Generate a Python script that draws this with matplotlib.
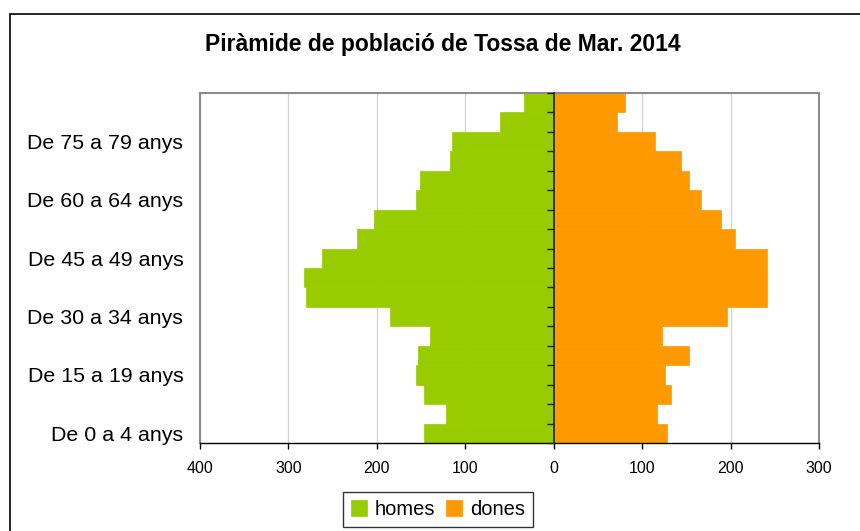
import matplotlib
matplotlib.use("Agg")
import matplotlib.pyplot as plt
from matplotlib.patches import Rectangle
from matplotlib.ticker import FuncFormatter
import numpy as np

plt.rcParams['font.family'] = ['Liberation Sans', 'DejaVu Sans']

categories = ["De 0 a 4 anys", "De 5 a 9 anys", "De 10 a 14 anys", "De 15 a 19 anys",
              "De 20 a 24 anys", "De 25 a 29 anys", "De 30 a 34 anys", "De 35 a 39 anys",
              "De 40 a 44 anys", "De 45 a 49 anys", "De 50 a 54 anys", "De 55 a 59 anys",
              "De 60 a 64 anys", "De 65 a 69 anys", "De 70 a 74 anys", "De 75 a 79 anys",
              "De 80 a 84 anys", "De 85 anys i més"]
homes = [147, 122, 147, 156, 153, 140, 185, 280, 282, 262, 223, 203, 156, 151, 117, 115, 61, 34]
dones = [128, 117, 133, 126, 153, 122, 196, 241, 241, 241, 205, 189, 167, 153, 144, 115, 72, 81]
xticks = [-400, -300, -200, -100, 0, 100, 200, 300]
title = "Piràmide de població de Tossa de Mar. 2014"

W, H = 860, 531
fig = plt.figure(figsize=(W / 100, H / 100), dpi=100)
fig.patch.set_facecolor('white')

# outer chart border (extends past right and bottom edges)
top_frac = 1 - 14 / H
fig.add_artist(Rectangle((10 / W, -0.2), 1.2, top_frac + 0.2, transform=fig.transFigure,
                         fill=False, edgecolor='black', linewidth=1.2))

ax = fig.add_axes([200 / W, (H - 443) / H, (819 - 200) / W, (443 - 93) / H])
y = np.arange(len(categories))
green = '#99CC00'
orange = '#FF9900'
ax.barh(y, [-v for v in homes], height=1.0, color=green, edgecolor=green, linewidth=0.5,
        label='homes', zorder=2)
ax.barh(y, dones, height=1.0, color=orange, edgecolor=orange, linewidth=0.5,
        label='dones', zorder=2)

ax.set_xlim(-400, 300)
ax.set_ylim(-0.5, len(categories) - 0.5)
ax.set_xticks(xticks)
ax.xaxis.set_major_formatter(FuncFormatter(lambda v, p: f"{abs(int(v))}"))
ax.tick_params(axis='x', direction='out', length=4, width=1, pad=9, labelsize=11.5, colors='black')
ax.grid(axis='x', color='#D6D6D6', linewidth=1, zorder=0)

ax.set_yticks(y[::3])
ax.set_yticklabels(categories[::3])
ax.tick_params(axis='y', length=0, pad=12, labelsize=15.4)

for s in ['left', 'top', 'right']:
    ax.spines[s].set_color('#8C8C8C')
    ax.spines[s].set_linewidth(1.5)
ax.spines['bottom'].set_color('black')
ax.spines['bottom'].set_linewidth(1)

# central axis at x = 0 with boundary ticks
ax2 = ax.twinx()
ax2.set_ylim(ax.get_ylim())
for s in ['left', 'top', 'bottom']:
    ax2.spines[s].set_visible(False)
ax2.spines['right'].set_position(('data', 0))
ax2.spines['right'].set_color('#202020')
ax2.spines['right'].set_linewidth(1.2)
ax2.set_yticks(np.arange(-0.5, len(categories), 1.0))
ax2.tick_params(axis='y', direction='in', length=5, width=1, labelright=False, colors='#202020')
ax2.patch.set_visible(False)

fig.text(443 / W, 1 - 45 / H, title, ha='center', va='center', fontsize=16.5, fontweight='bold')

leg = fig.legend(handles=[ax.containers[0], ax.containers[1]], labels=['homes', 'dones'],
                 loc='upper center', bbox_to_anchor=(438 / W, 1 - 492 / H), ncol=2,
                 frameon=True, fancybox=False, edgecolor='black', fontsize=14.5,
                 handlelength=0.78, handleheight=0.8, handletextpad=0.4, columnspacing=0.55,
                 borderpad=0.4, borderaxespad=0)
leg.get_frame().set_linewidth(1)

fig.savefig('out.png', dpi=100, facecolor='white')
